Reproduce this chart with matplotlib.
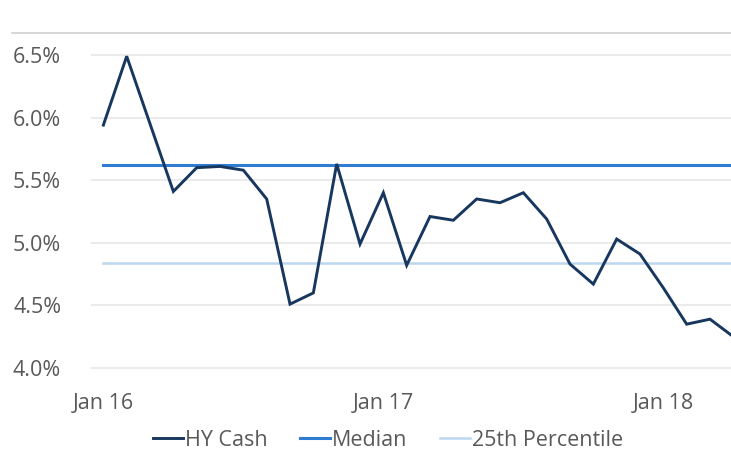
import matplotlib
matplotlib.use("Agg")
import matplotlib.pyplot as plt
from matplotlib import font_manager
from matplotlib.lines import Line2D

months = ["Jan 16", "Feb 16", "Mar 16", "Apr 16", "May 16", "Jun 16", "Jul 16", "Aug 16",
          "Sep 16", "Oct 16", "Nov 16", "Dec 16", "Jan 17", "Feb 17", "Mar 17", "Apr 17",
          "May 17", "Jun 17", "Jul 17", "Aug 17", "Sep 17", "Oct 17", "Nov 17", "Dec 17",
          "Jan 18", "Feb 18", "Mar 18", "Apr 18"]
hy_cash = [5.94, 6.49, 5.95, 5.41, 5.60, 5.61, 5.58, 5.35,
           4.51, 4.60, 5.63, 4.99, 5.40, 4.82, 5.21, 5.18,
           5.35, 5.32, 5.40, 5.19, 4.83, 4.67, 5.03, 4.91,
           4.64, 4.35, 4.39, 4.25]
median_value = 5.62
pct25_value = 4.84
xtick_labels = ["Jan 16", "Jan 17", "Jan 18"]
ytick_values = [4.0, 4.5, 5.0, 5.5, 6.0, 6.5]

names = {f.name for f in font_manager.fontManager.ttflist}
fam = "Liberation Sans Narrow" if "Liberation Sans Narrow" in names else "Open Sans"
plt.rcParams["font.family"] = [fam, "DejaVu Sans"]

W, H = 731, 450
fig = plt.figure(figsize=(W / 100, H / 100), dpi=100)
left, right, top, bottom = 91.7, 731, 55, 368
ax = fig.add_axes([left / W, 1 - bottom / H, (right - left) / W, (bottom - top) / H])

x = list(range(len(months)))
text_color = "#595959"

for y in ytick_values:
    ax.axhline(y, color="#ebebeb", lw=1.5, zorder=0, clip_on=False)

ax.plot(x, hy_cash, color="#17375e", lw=2.1, zorder=3, solid_joinstyle="miter", label="HY Cash")
ax.plot(x, [median_value] * len(x), color="#2e7dd2", lw=2.2, zorder=2, label="Median")
ax.plot(x, [pct25_value] * len(x), color="#bdd7ee", lw=1.8, zorder=1, label="25th Percentile")

ax.set_xlim(-0.5, 26.9)
ax.set_ylim(4.0, 6.5)
ax.set_yticks(ytick_values)
ax.set_yticklabels([f"{v:.1f}%" for v in ytick_values])
ax.set_xticks([months.index(m) for m in xtick_labels])
ax.set_xticklabels(xtick_labels)
ax.tick_params(axis="both", length=0, labelsize=15.5, colors=text_color)
ax.tick_params(axis="y", pad=22)
ax.tick_params(axis="x", pad=18)
for s in ax.spines.values():
    s.set_visible(False)

# top rule
fig.add_artist(Line2D([12 / W, 1.0], [1 - 33 / H, 1 - 33 / H], color="#d0d0d0", lw=1.2))

leg = fig.legend(loc="center", bbox_to_anchor=(388 / W, 1 - 440 / H), ncol=3, frameon=False,
                 fontsize=15.5, handlelength=1.4, handletextpad=0.1, columnspacing=1.5)
for t in leg.get_texts():
    t.set_color(text_color)

fig.savefig("out.png", dpi=100)
